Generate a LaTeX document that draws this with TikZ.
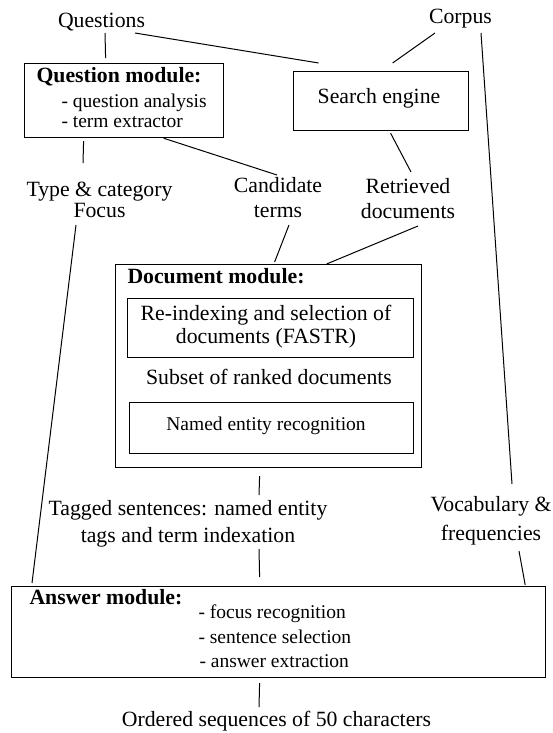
\documentclass[tikz,border=0pt]{standalone}
\usepackage{fontspec}
\setmainfont{Liberation Serif}
\tikzset{
  lbl/.style={font=\fontsize{21.75}{25}\selectfont, inner sep=0pt, anchor=base, align=center},
  item/.style={font=\fontsize{19.5}{23}\selectfont, inner sep=0pt, anchor=base west},
  head/.style={font=\fontsize{21.75}{25}\selectfont\bfseries, inner sep=0pt, anchor=base west},
  box/.style={draw, line width=1.2pt, inner sep=0pt, anchor=north west},
}
\begin{document}
\begin{tikzpicture}[x=1pt, y=-1pt, line width=1pt]
\useasboundingbox (0,0) rectangle (552,733);
% inputs
\node[lbl] (ques) at (101.5,28) {Questions};
\node[lbl] (corpus) at (460.5,24) {Corpus};
% question module
\node[box, minimum width=199, minimum height=74] (qmod) at (24,63) {};
\node[head] (qhead) at (36,83) {Question module:};
\node[item] (qana) at (61,108) {- question analysis};
\node[item] (qterm) at (61,128) {- term extractor};
% search engine
\node[box, minimum width=175, minimum height=59] (search) at (293,71) {};
\node[lbl] (stxt) at (379,104) {Search engine};
% intermediate results (base = last line)
\node[lbl] (tyfoc) at (99.5,217) {Type \& category\\[-4pt]Focus};
\node[lbl] (cand) at (278,217) {Candidate\\terms};
\node[lbl] (retr) at (408,218) {Retrieved\\documents};
% document module
\node[box, minimum width=306, minimum height=203] (docmod) at (115,264) {};
\node[head] (dhead) at (127,283) {Document module:};
\node[box, minimum width=286, minimum height=59] (reidx) at (127,298) {};
\node[lbl] (rtxt) at (266,343) {Re-indexing and selection of\\[-2pt]documents (FASTR)};
\node[lbl] (subset) at (269,384) {Subset of ranked documents};
\node[box, minimum width=284, minimum height=51] (ner) at (129,402) {};
\node[lbl, font=\fontsize{19.5}{23}\selectfont] (ntxt) at (266,430) {Named entity recognition};
\node[lbl] (tagged) at (188,542) {Tagged sentences: named entity\\[2pt]tags and term indexation};
\node[lbl] (vocab) at (491,540) {Vocabulary \&\\[4pt]frequencies};
% answer module
\node[box, minimum width=534, minimum height=91] (ansmod) at (11,586) {};
\node[head] (ahead) at (29,604) {Answer module:};
\node[item] (afoc) at (198,618) {- focus recognition};
\node[item] (asel) at (198,643) {- sentence selection};
\node[item] (aext) at (199,667) {- answer extraction};
\node[lbl] (ordered) at (276.5,726) {Ordered sequences of 50 characters};

% connectors
\draw ([xshift=3.5,yshift=-5]ques.base) -- ([xshift=-18.5,yshift=5]qmod.north);
\draw ([xshift=33.5,yshift=-5]ques.base) -- ([xshift=-62.5,yshift=8]search.north);
\draw ([xshift=-25.5,yshift=-9]corpus.base) -- ([xshift=11.5,yshift=8]search.north);
\draw ([xshift=20.5,yshift=-9]corpus.base) -- ([xshift=21,yshift=56]vocab.base);
\draw ([xshift=-40.5,yshift=-3]qmod.south) -- ([xshift=-16.5,yshift=54]tyfoc.base);
\draw ([xshift=39.5]qmod.south) -- ([xshift=-1,yshift=42]cand.base);
\draw ([xshift=9.5,yshift=-2]search.south) -- ([xshift=3,yshift=46]retr.base);
\draw ([xshift=-23.5,yshift=-8]tyfoc.base) -- ([xshift=21,yshift=3]ansmod.north west);
\draw ([xshift=11,yshift=-8]cand.base) -- ([xshift=6,yshift=2]docmod.north);
\draw ([xshift=10,yshift=-8]retr.base) -- ([xshift=58]docmod.north);
\draw ([xshift=-9,yshift=-8]docmod.south) -- ([xshift=71,yshift=47]tagged.base);
\draw ([xshift=71,yshift=-7]tagged.base) -- ([xshift=-19,yshift=9]ansmod.north);
\draw ([xshift=28,yshift=-11]vocab.base) -- ([xshift=-21,yshift=1]ansmod.north east);
\draw ([xshift=-19,yshift=-5]ansmod.south) -- ([xshift=-17.5,yshift=19]ordered.base);
\end{tikzpicture}
\end{document}
